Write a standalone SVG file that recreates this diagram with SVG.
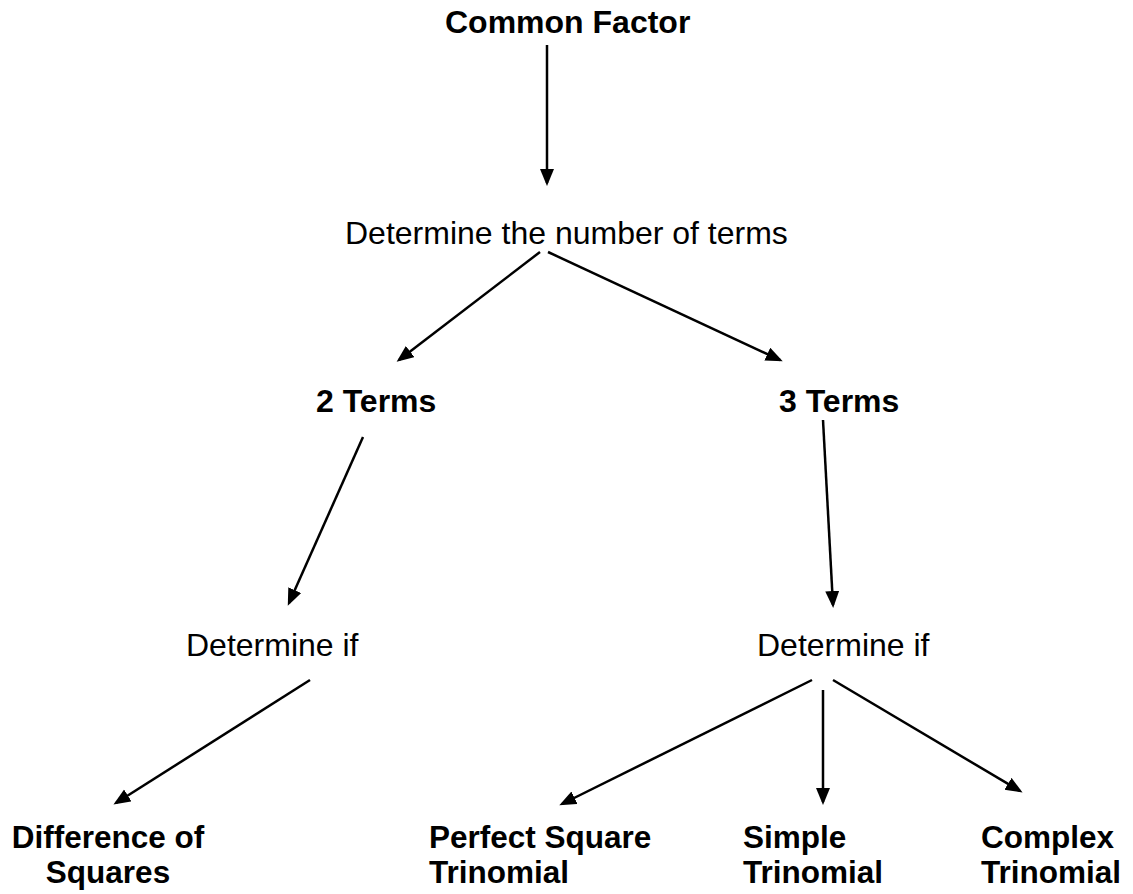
<svg xmlns="http://www.w3.org/2000/svg" width="1133" height="894" viewBox="0 0 1133 894">
<style>
.b{font-family:"Liberation Sans",Arial,sans-serif;font-weight:bold;font-size:32px;fill:#000}
.s{font-size:31.5px}
.r{font-family:"Liberation Sans",Arial,sans-serif;font-size:32px;fill:#000}
.c line{stroke:#000;stroke-width:2.5;marker-end:url(#ah)}
</style>
<defs>
<marker id="ah" markerUnits="userSpaceOnUse" markerWidth="18" markerHeight="16" refX="14" refY="7" orient="auto" viewBox="0 0 18 16">
<path d="M0,0 L17,7 L0,14 z" fill="#000"/>
</marker>
</defs>
<rect width="1133" height="894" fill="#fff"/>
<g id="common-factor"><text class="b" x="445" y="33">Common Factor</text></g>
<g id="determine-terms"><text class="r" x="345" y="244">Determine the number of terms</text></g>
<g id="two-terms"><text class="b" x="316" y="412">2 Terms</text></g>
<g id="three-terms"><text class="b" x="779" y="412">3 Terms</text></g>
<g id="determine-if-left"><text class="r" x="186" y="656">Determine if</text></g>
<g id="determine-if-right"><text class="r" x="757" y="656">Determine if</text></g>
<g id="difference-of-squares"><text class="b s" text-anchor="middle"><tspan x="108" y="848">Difference of</tspan><tspan x="108" y="883">Squares</tspan></text></g>
<g id="perfect-square"><text class="b s"><tspan x="429" y="848">Perfect Square</tspan><tspan x="429" y="883">Trinomial</tspan></text></g>
<g id="simple"><text class="b s"><tspan x="743" y="848">Simple</tspan><tspan x="743" y="883">Trinomial</tspan></text></g>
<g id="complex"><text class="b s"><tspan x="981" y="848">Complex</tspan><tspan x="981" y="883">Trinomial</tspan></text></g>
<g id="connectors" class="c">
<line x1="547" y1="45" x2="547" y2="183"/>
<line x1="540" y1="252" x2="399" y2="360"/>
<line x1="548" y1="252" x2="780" y2="360"/>
<line x1="363" y1="437" x2="289" y2="603"/>
<line x1="823" y1="420" x2="833" y2="605"/>
<line x1="310" y1="680" x2="116" y2="803"/>
<line x1="812" y1="680" x2="562" y2="804"/>
<line x1="823" y1="690" x2="823" y2="802"/>
<line x1="833" y1="680" x2="1020" y2="791"/>
</g>
</svg>
